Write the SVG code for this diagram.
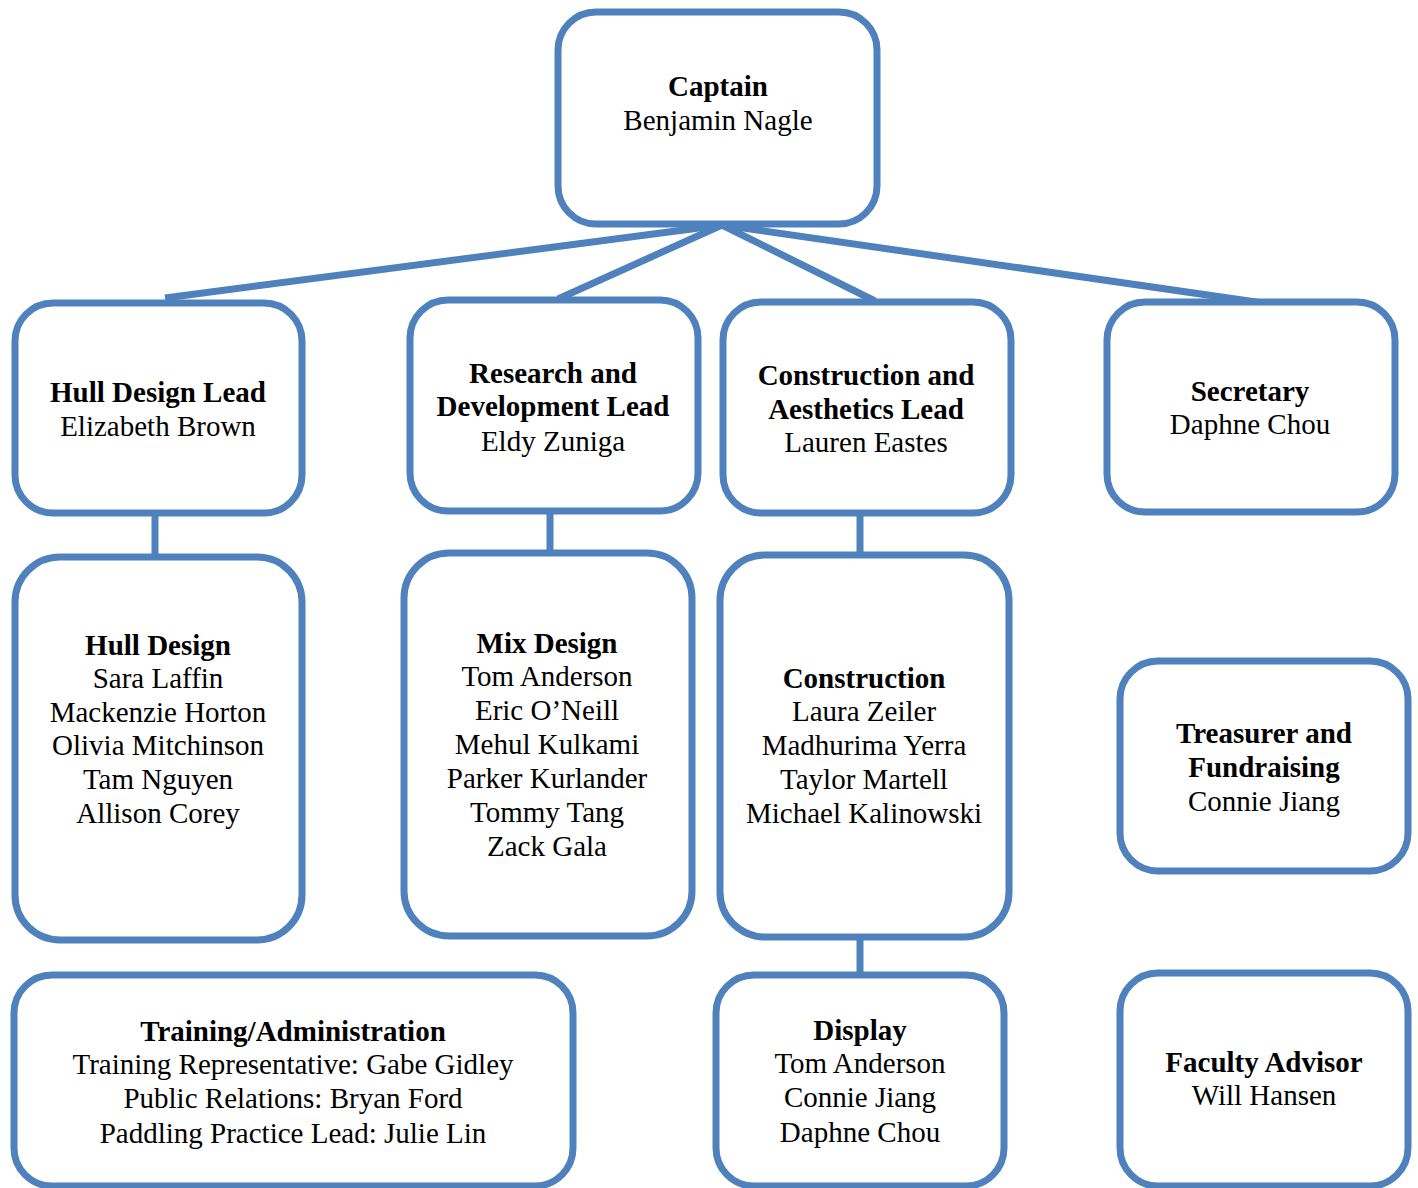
<svg xmlns="http://www.w3.org/2000/svg" width="1418" height="1188" viewBox="0 0 1418 1188">
<style>
.box{fill:#fff;stroke:#4F81BD;stroke-width:7}
.conn{stroke:#4F81BD;stroke-width:7;fill:none}
text{font-family:"Liberation Serif","Times New Roman",serif;font-size:29px;fill:#000;text-anchor:middle}
.b{font-weight:bold}
</style>
<rect width="1418" height="1188" fill="#fff"/>
<g id="connectors">
<line class="conn" x1="722" y1="225" x2="165" y2="298"/>
<line class="conn" x1="722" y1="225" x2="558" y2="299"/>
<line class="conn" x1="722" y1="225" x2="875" y2="301"/>
<line class="conn" x1="722" y1="225" x2="1263" y2="303"/>
<line class="conn" x1="155" y1="513" x2="155" y2="557"/>
<line class="conn" x1="550" y1="512" x2="550" y2="553"/>
<line class="conn" x1="860" y1="514" x2="860" y2="555"/>
<line class="conn" x1="860" y1="938" x2="860" y2="975"/>
</g>
<g id="captain"><rect class="box" x="558" y="12" width="319" height="212" rx="38"/>
<text x="718" y="96" class="b">Captain</text><text x="718" y="130">Benjamin Nagle</text></g>
<g id="hull-lead"><rect class="box" x="15" y="303" width="287" height="210" rx="38"/>
<text x="158" y="402" class="b">Hull Design Lead</text><text x="158" y="436">Elizabeth Brown</text></g>
<g id="rd-lead"><rect class="box" x="410" y="300" width="288" height="211" rx="38"/>
<text x="553" y="383" class="b">Research and</text><text x="553" y="416" class="b">Development Lead</text><text x="553" y="451">Eldy Zuniga</text></g>
<g id="construction-lead"><rect class="box" x="723" y="302" width="288" height="211" rx="38"/>
<text x="866" y="385" class="b">Construction and</text><text x="866" y="419" class="b">Aesthetics Lead</text><text x="866" y="452">Lauren Eastes</text></g>
<g id="secretary"><rect class="box" x="1107" y="302" width="288" height="210" rx="38"/>
<text x="1250" y="401" class="b">Secretary</text><text x="1250" y="434">Daphne Chou</text></g>
<g id="hull-design"><rect class="box" x="15" y="557" width="287" height="383" rx="45"/>
<text x="158" y="655" class="b">Hull Design</text><text x="158" y="688">Sara Laffin</text><text x="158" y="722">Mackenzie Horton</text><text x="158" y="755">Olivia Mitchinson</text><text x="158" y="789">Tam Nguyen</text><text x="158" y="823">Allison Corey</text></g>
<g id="mix-design"><rect class="box" x="404" y="553" width="288" height="383" rx="45"/>
<text x="547" y="653" class="b">Mix Design</text><text x="547" y="686">Tom Anderson</text><text x="547" y="720">Eric O’Neill</text><text x="547" y="754">Mehul Kulkami</text><text x="547" y="788">Parker Kurlander</text><text x="547" y="822">Tommy Tang</text><text x="547" y="856">Zack Gala</text></g>
<g id="construction"><rect class="box" x="720" y="555" width="289" height="382" rx="45"/>
<text x="864" y="688" class="b">Construction</text><text x="864" y="721">Laura Zeiler</text><text x="864" y="755">Madhurima Yerra</text><text x="864" y="789">Taylor Martell</text><text x="864" y="823">Michael Kalinowski</text></g>
<g id="treasurer"><rect class="box" x="1120" y="661" width="288" height="210" rx="38"/>
<text x="1264" y="743" class="b">Treasurer and</text><text x="1264" y="777" class="b">Fundraising</text><text x="1264" y="811">Connie Jiang</text></g>
<g id="training"><rect class="box" x="14" y="975" width="559" height="211" rx="38"/>
<text x="293" y="1041" class="b">Training/Administration</text><text x="293" y="1074">Training Representative: Gabe Gidley</text><text x="293" y="1108">Public Relations: Bryan Ford</text><text x="293" y="1143">Paddling Practice Lead: Julie Lin</text></g>
<g id="display"><rect class="box" x="716" y="975" width="288" height="211" rx="38"/>
<text x="860" y="1040" class="b">Display</text><text x="860" y="1073">Tom Anderson</text><text x="860" y="1107">Connie Jiang</text><text x="860" y="1142">Daphne Chou</text></g>
<g id="faculty"><rect class="box" x="1120" y="973" width="288" height="213" rx="38"/>
<text x="1264" y="1072" class="b">Faculty Advisor</text><text x="1264" y="1105">Will Hansen</text></g>
</svg>
